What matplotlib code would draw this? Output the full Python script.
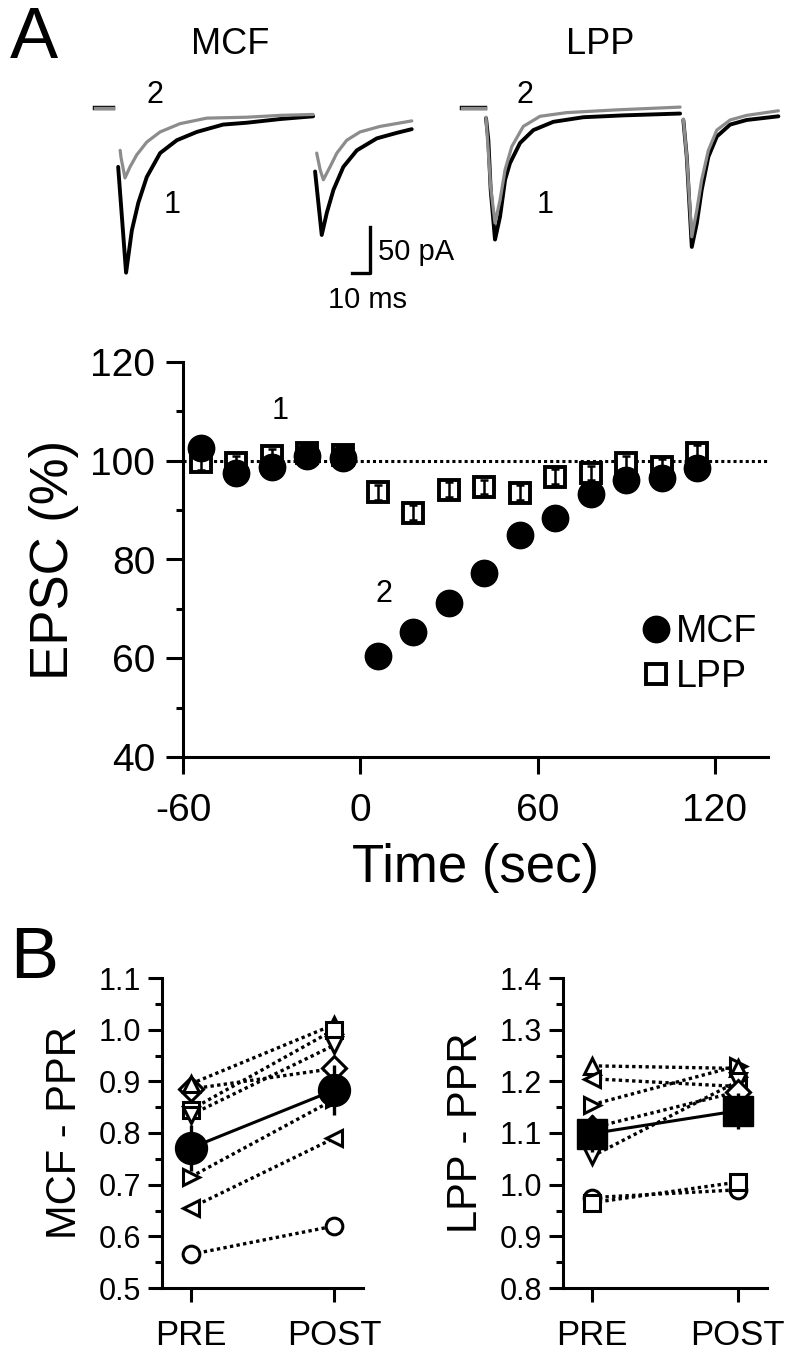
import matplotlib
matplotlib.use('Agg')
import matplotlib.pyplot as plt
from matplotlib.ticker import MultipleLocator
import numpy as np

plt.rcParams['font.family'] = ['Liberation Sans', 'DejaVu Sans']
plt.rcParams['axes.unicode_minus'] = False

# ---- traces (ms, pA) ----
mcf_base_t = [-12.2, -2.2]
mcf_b1_t = [0.6, 5.0, 8.2, 11.8, 16.5, 23.9, 33.2, 44.3, 58.9, 72.0, 90.6, 108.9]
mcf_b1_i = [-64, -179, -133, -103, -75, -49, -35, -26, -18, -16, -12, -9]
mcf_g1_t = [1.7, 2.2, 4.4, 7.2, 10.9, 16.5, 23.9, 35.0, 49.8, 72.0, 90.6, 108.9]
mcf_g1_i = [-46, -54, -76, -64, -51, -37, -26, -17, -11, -10, -8, -7]
mcf_b2_t = [110.0, 113.7, 116.5, 120.2, 125.7, 133.2, 144.3, 155.4, 163.7]
mcf_b2_i = [-69, -138, -114, -89, -64, -46, -33, -27, -23]
mcf_g2_t = [110.9, 112.8, 114.6, 118.3, 122.1, 127.6, 135.0, 146.1, 163.7]
mcf_g2_i = [-49, -67, -78, -64, -49, -35, -26, -20, -14]

lpp_base_t = [-13.3, -0.6]
lpp_b1_t = [0, 1.3, 2.6, 5.0, 7.8, 10.6, 13.3, 18.9, 26.3, 37.4, 54.1, 76.3, 107.8]
lpp_b1_i = [-11, -35, -89, -143, -118, -78, -60, -38, -24, -15, -10, -8, -6]
lpp_g1_t = [0, 2.6, 5.0, 7.8, 10.6, 14.3, 20.7, 30.0, 44.8, 72.6, 107.8]
lpp_g1_i = [-10, -86, -125, -100, -67, -42, -20, -9, -5, -2, 1]
lpp_b2_t = [109.6, 111.5, 114.3, 117.1, 119.8, 123.5, 128.2, 135.6, 144.8, 162.4]
lpp_b2_i = [-13, -53, -151, -125, -89, -53, -31, -18, -13, -9]
lpp_g2_t = [109.6, 111.5, 114.3, 117.1, 119.8, 123.5, 128.2, 135.6, 144.8, 162.4]
lpp_g2_i = [-12, -53, -140, -111, -78, -46, -24, -13, -8, -3]

# ---- time course ----
time_s = [-54, -42, -30, -18, -6, 6, 18, 30, 42, 54, 66, 78, 90, 102, 114]
mcf_epsc = [102.6, 97.5, 98.8, 101.0, 100.5, 60.4, 65.4, 71.2, 77.3, 85.0, 88.4, 93.3, 96.2, 96.5, 98.5]
mcf_sem = [1.5, 1.5, 1.5, 1.5, 1.5, 2, 2, 2, 2, 2, 2, 1.5, 1.5, 1.5, 1.5]
lpp_epsc = [99.7, 99.5, 100.9, 101.6, 101.2, 93.6, 89.5, 94.1, 94.7, 93.5, 96.8, 97.5, 99.5, 98.8, 101.6]
lpp_sem = [1.5, 1.5, 1.5, 1.5, 1.5, 1.5, 1.5, 1.5, 1.5, 1.5, 1.5, 1.5, 1.5, 1.5, 1.5]

# ---- paired-pulse ratios ----
mcf_markers = ['o', '<', '>', 'D', '^', 's', 'v']
mcf_pre = [0.565, 0.655, 0.715, 0.885, 0.895, 0.845, 0.835]
mcf_post = [0.62, 0.79, 0.865, 0.925, 1.01, 1.0, 0.97]
mcf_mean = [0.771, 0.883]
mcf_mean_sem = [0.045, 0.048]

lpp_markers = ['>', '^', '<', 'v', 'D', 'o', 's']
lpp_pre = [1.155, 1.23, 1.205, 1.055, 1.11, 0.975, 0.965]
lpp_post = [1.23, 1.225, 1.19, 1.2, 1.18, 0.99, 1.005]
lpp_mean = [1.099, 1.143]
lpp_mean_sem = [0.035, 0.035]


def box(l, t, r, b):
    return [l / 800, 1 - b / 1358, (r - l) / 800, (b - t) / 1358]


fig = plt.figure(figsize=(8, 13.58), dpi=100)

# ---- A: traces ----
gray = '#8c8c8c'
ax_m = fig.add_axes(box(80, 60, 440, 300))
ax_l = fig.add_axes(box(450, 60, 800, 300))
for ax, base_t, traces in [
        (ax_m, mcf_base_t, [(mcf_b1_t, mcf_b1_i, 'k'), (mcf_b2_t, mcf_b2_i, 'k'),
                            (mcf_g1_t, mcf_g1_i, gray), (mcf_g2_t, mcf_g2_i, gray)]),
        (ax_l, lpp_base_t, [(lpp_b1_t, lpp_b1_i, 'k'), (lpp_b2_t, lpp_b2_i, 'k'),
                            (lpp_g1_t, lpp_g1_i, gray), (lpp_g2_t, lpp_g2_i, gray)])]:
    ax.plot(base_t, [0, 0], color='k', lw=3.2)
    ax.plot(base_t, [0, 0], color=gray, lw=2.4)
    for t, i, c in traces:
        ax.plot(t, i, color=c, lw=2.8 if c == 'k' else 2.3, solid_joinstyle='round',
                solid_capstyle='round')
    ax.set_ylim(-208.7, 52.2)
    ax.axis('off')
ax_m.set_xlim(-20.6, 179.4)
ax_l.set_xlim(-20, 174.4)

# scale bar
ax_m.plot([130.6, 140.6, 140.6], [-179, -179, -129], color='k', lw=2.4)
ax_m.text(145, -156, '50 pA', fontsize=21, va='center', ha='left')
ax_m.text(139, -209, '10 ms', fontsize=21, va='center', ha='center', clip_on=False)
ax_m.text(21, 14, '2', fontsize=22, ha='center', va='center')
ax_m.text(30.5, -105, '1', fontsize=22, ha='center', va='center')
ax_l.text(21.7, 14, '2', fontsize=22, ha='center', va='center')
ax_l.text(32.8, -105, '1', fontsize=22, ha='center', va='center')

fig.text(230 / 800, 1 - 45 / 1358, 'MCF', fontsize=26, ha='center', va='center')
fig.text(600 / 800, 1 - 45 / 1358, 'LPP', fontsize=26, ha='center', va='center')
fig.text(10 / 800, 1 - 40 / 1358, 'A', fontsize=52, ha='left', va='center')
fig.text(10 / 800, 1 - 960 / 1358, 'B', fontsize=52, ha='left', va='center')

# ---- A: time course ----
ax = fig.add_axes(box(183, 362, 768, 757))
ax.axhline(100, color='k', ls=(0, (1, 1)), lw=2.2, zorder=1)
ax.errorbar(time_s, lpp_epsc, yerr=lpp_sem, fmt='none', ecolor='k', elinewidth=1.8,
            capsize=3, capthick=1.8, zorder=3)
sq, = ax.plot(time_s, lpp_epsc, 's', ms=15, mfc='white', mec='k', mew=2.8, ls='none',
              zorder=2, label='LPP')
ax.errorbar(time_s, mcf_epsc, yerr=mcf_sem, fmt='none', ecolor='k', elinewidth=1.8, zorder=4)
ci, = ax.plot(time_s, mcf_epsc, 'o', ms=19, color='k', ls='none', zorder=4, label='MCF')
ax.text(-27, 110, '1', fontsize=22, ha='center', va='center')
ax.text(8, 73, '2', fontsize=22, ha='center', va='center')
ax.legend(handles=[ci, sq], loc='upper left', bbox_to_anchor=(0.75, 0.40), frameon=False,
          fontsize=27, handletextpad=0.05, labelspacing=0.25, handlelength=1.0,
          borderaxespad=0)

ax.set_xlim(-60, 138)
ax.set_ylim(40, 120)
ax.set_xticks([-60, 0, 60, 120])
ax.set_yticks([40, 60, 80, 100, 120])
ax.yaxis.set_minor_locator(MultipleLocator(10))
for s in ['top', 'right']:
    ax.spines[s].set_visible(False)
for s in ['left', 'bottom']:
    ax.spines[s].set_linewidth(2.2)
ax.tick_params(which='major', length=12, width=2.2, labelsize=28)
ax.tick_params(which='minor', length=5, width=2.2)
ax.tick_params(axis='y', pad=8)
ax.tick_params(axis='x', pad=14)
ax.set_ylabel('EPSC (%)', fontsize=38, labelpad=8)
ax.set_xlabel('Time (sec)', fontsize=38, labelpad=10)

# ---- B: paired-pulse ratio ----
for pos, mk, pre, post, mean, sem, mmk, ylab, lims, ticks in [
        (box(162, 978, 363, 1288), mcf_markers, mcf_pre, mcf_post, mcf_mean, mcf_mean_sem,
         'o', 'MCF - PPR', (0.5, 1.1), np.arange(0.5, 1.11, 0.1)),
        (box(563, 978, 767, 1288), lpp_markers, lpp_pre, lpp_post, lpp_mean, lpp_mean_sem,
         's', 'LPP - PPR', (0.8, 1.4), np.arange(0.8, 1.41, 0.1))]:
    bx = fig.add_axes(pos)
    for m, a, b in zip(mk, pre, post):
        bx.plot([0, 1], [a, b], color='k', ls=(0, (1, 1)), lw=2.4, zorder=1)
        bx.plot([0, 1], [a, b], m, ms=12, mfc='white', mec='k', mew=2.2, ls='none', zorder=2)
    bx.errorbar([0, 1], mean, yerr=sem, fmt='none', ecolor='k', elinewidth=2.4, zorder=3)
    bx.plot([0, 1], mean, color='k', lw=2.2, zorder=3)
    bx.plot([0, 1], mean, mmk, ms=23 if mmk == 'o' else 21, color='k', ls='none', zorder=4)
    bx.set_xlim(-0.2, 1.2)
    bx.set_ylim(*lims)
    bx.set_yticks(ticks)
    bx.set_yticklabels(['%.1f' % v for v in ticks])
    bx.yaxis.set_minor_locator(MultipleLocator(0.05))
    bx.set_xticks([0, 1])
    bx.set_xticklabels(['PRE', 'POST'])
    for s in ['top', 'right']:
        bx.spines[s].set_visible(False)
    for s in ['left', 'bottom']:
        bx.spines[s].set_linewidth(2.2)
    bx.tick_params(which='major', length=10, width=2.2)
    bx.tick_params(which='minor', length=5, width=2.2)
    bx.tick_params(axis='y', labelsize=22, pad=5)
    bx.tick_params(axis='x', labelsize=25, pad=12)
    bx.set_ylabel(ylab, fontsize=30, labelpad=10)

fig.savefig('out.png', dpi=100)
